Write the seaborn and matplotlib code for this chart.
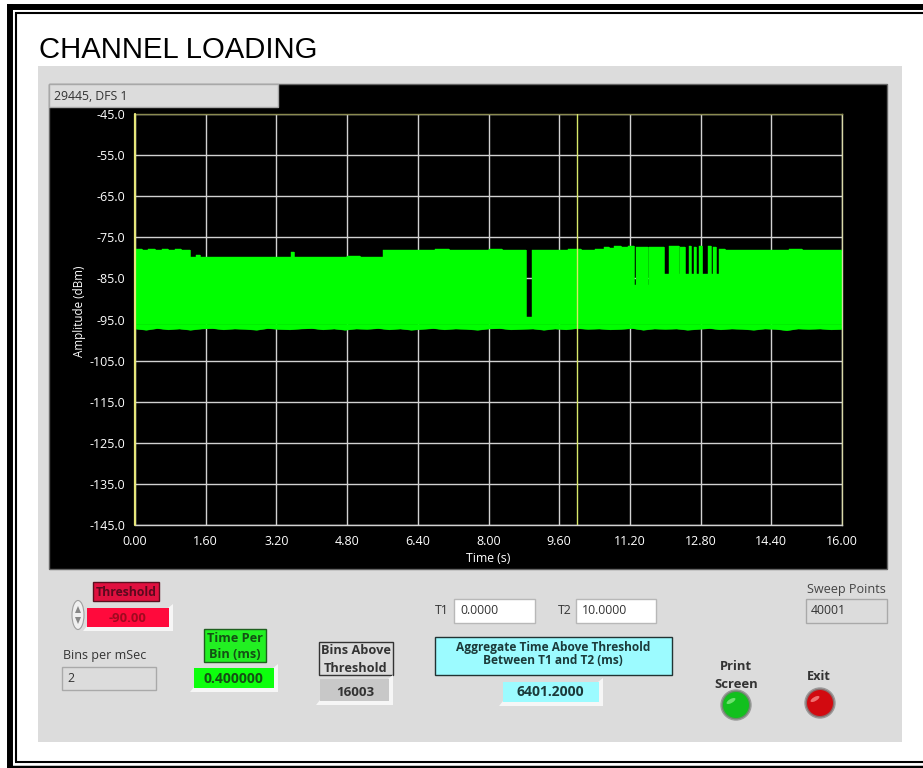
import seaborn as sns
import matplotlib.pyplot as plt
from matplotlib.patches import Rectangle, Circle, Ellipse, Polygon

W, H = 923, 768

# x axis / y axis
x_ticks = [0.0, 1.6, 3.2, 4.8, 6.4, 8.0, 9.6, 11.2, 12.8, 14.4, 16.0]
y_ticks = [-45, -55, -65, -75, -85, -95, -105, -115, -125, -135, -145]

# upper envelope of the trace (step data)
t_top = [0.00, 0.15, 0.30, 0.45, 0.60, 0.75, 0.90, 1.05, 1.24, 1.38, 1.48, 1.60, 1.90, 2.20, 2.50,
         2.80, 3.10, 3.40, 3.52, 3.60, 3.90, 4.20, 4.50, 4.80, 5.10, 5.40, 5.62, 5.90, 6.20, 6.50,
         6.80, 7.10, 7.40, 7.70, 8.00, 8.30, 8.60, 8.85, 8.98, 9.20, 9.50, 9.80, 10.10, 10.40, 10.62,
         10.72, 10.85, 11.00, 11.15, 11.30, 11.33, 11.60, 11.63, 11.97, 12.08, 12.30, 12.33, 12.45, 12.54, 12.58,
         12.64, 12.69, 12.76, 12.84, 12.96, 13.04, 13.08, 13.14, 13.22, 13.35, 13.60, 13.90, 14.20, 14.50, 14.80,
         15.10, 15.40, 15.70, 16.00]
amp_top = [-77.9, -78.0, -77.8, -78.0, -77.9, -78.0, -77.8, -78.0, -79.7, -79.3, -79.8, -79.9, -79.8, -79.9, -79.8,
           -79.9, -79.8, -79.8, -78.6, -79.8, -79.8, -79.9, -79.8, -79.6, -79.9, -79.8, -78.0, -78.1, -78.0, -78.1,
           -77.9, -78.1, -78.0, -78.1, -77.9, -78.0, -78.1, -94.5, -78.1, -78.0, -78.1, -77.9, -78.0, -77.9, -77.3,
           -77.6, -77.2, -77.3, -77.2, -86.6, -77.4, -86.6, -77.3, -84.0, -77.1, -84.0, -77.3, -84.0, -77.2, -84.0,
           -77.3, -84.0, -77.2, -84.0, -77.2, -84.0, -77.3, -84.0, -77.9, -78.1, -78.0, -78.1, -78.0, -78.1, -77.9,
           -78.1, -78.0, -78.1, -78.0]

# lower envelope
t_low = [0.00, 0.25, 0.50, 0.75, 1.00, 1.25, 1.50, 1.75, 2.00, 2.25, 2.50, 2.75, 3.00, 3.25, 3.50, 3.75,
         4.00, 4.25, 4.50, 4.75, 5.00, 5.25, 5.50, 5.75, 6.00, 6.25, 6.50, 6.75, 7.00, 7.25, 7.50, 7.75,
         8.00, 8.25, 8.50, 8.75, 9.00, 9.25, 9.50, 9.75, 10.00, 10.25, 10.50, 10.75, 11.00, 11.25, 11.50, 11.75,
         12.00, 12.25, 12.50, 12.75, 13.00, 13.25, 13.50, 13.75, 14.00, 14.25, 14.50, 14.75, 15.00, 15.25, 15.50, 15.75, 16.00]
amp_low = [-97.2, -97.5, -97.1, -97.4, -97.2, -97.5, -97.2, -97.1, -97.4, -97.2, -97.3, -97.5, -97.1, -97.3, -97.4, -97.2,
           -97.1, -97.4, -97.2, -97.5, -97.2, -97.3, -97.1, -97.4, -97.2, -97.5, -97.3, -97.1, -97.4, -97.2, -97.3, -97.5,
           -97.2, -97.1, -97.4, -97.3, -97.2, -97.5, -97.2, -97.4, -97.1, -97.3, -97.2, -97.4, -97.3, -97.1, -97.5, -97.2,
           -97.3, -97.2, -97.5, -97.3, -97.1, -97.4, -97.2, -97.3, -97.5, -97.2, -97.3, -97.6, -97.2, -97.3, -97.2, -97.4, -97.3]

t1_cursor = 0.0
t2_cursor = 10.0
band_base = -96.0

sns.set_theme(style='white')
plt.rcParams['font.family'] = ['Open Sans', 'DejaVu Sans']

fig = plt.figure(figsize=(W / 100, H / 100), dpi=100, facecolor='white')

# page, panel and all the front panel boxes go in a pixel sized axes
bg = fig.add_axes([0, 0, 1, 1])
bg.set_xlim(0, W)
bg.set_ylim(H, 0)
bg.axis('off')


def box(x0, y0, x1, y1, fc, ec='none', lw=1.0, z=2):
    bg.add_patch(Rectangle((x0, y0), x1 - x0, y1 - y0, fc=fc, ec=ec, lw=lw, zorder=z))


def raised(x0, y0, x1, y1, fc):
    # white lip on the lower right like the labview indicators
    bg.add_patch(Polygon([(x1 - 1, y0), (x1 + 4, y0 - 4), (x1 + 4, y1 + 4), (x0 - 4, y1 + 4), (x0, y1 - 1)],
                         fc='#f6f6f6', ec='none', zorder=2))
    box(x0, y0, x1, y1, fc, z=3)


def label(x, y, s, size=8.8, color='#333333', weight='normal', ha='left'):
    bg.text(x, y, s, fontsize=size, color=color, fontweight=weight, ha=ha, va='center', zorder=5)


# double border, open on the right side
bg.plot([10, 10], [H, 4], color='black', lw=4.3, solid_capstyle='butt')
bg.plot([7, W], [7, 7], color='black', lw=4.3, solid_capstyle='butt')
bg.plot([16, 16], [762, 12], color='black', lw=1.5, solid_capstyle='butt')
bg.plot([15, W], [13, 13], color='black', lw=1.5, solid_capstyle='butt')
bg.plot([15, W], [762, 762], color='black', lw=1.5, solid_capstyle='butt')
bg.plot([7, W], [766.5, 766.5], color='black', lw=2.5, solid_capstyle='butt')

bg.text(39, 50, 'CHANNEL LOADING', fontsize=21.1, color='black', family='Liberation Sans', ha='left', va='center')

box(38, 66, 902, 742, '#dcdcdc', z=1)
box(49, 84, 887, 569, 'black', ec='#666666', z=1.5)
box(49, 84, 278, 107, '#dcdcdc', ec='#a8a8a8', z=2)
label(54, 96, '29445, DFS 1')

# threshold
box(93, 582, 159, 601, '#e0103f', ec='#5a1020')
label(126, 592, 'Threshold', weight='bold', color='#5a0a1e', ha='center')
raised(87, 608, 169, 627, '#ff0a3c')
label(128, 618, '-90.00', weight='bold', color='#a00a20', ha='center', size=9.4)
bg.add_patch(Ellipse((78, 615), 12, 29, fc='#f0f0f0', ec='#a0a0a0', lw=0.8, zorder=3))
bg.add_patch(Polygon([(75, 613), (81, 613), (78, 606)], fc='#888888', ec='none', zorder=4))
bg.add_patch(Polygon([(75, 617), (81, 617), (78, 624)], fc='#888888', ec='none', zorder=4))

label(63, 656, 'Bins per mSec', size=9)
box(62, 667, 156, 690, '#dcdcdc', ec='#a9a9a9')
label(67, 679, '2')

# time per bin
box(204, 629, 266, 662, '#22f022', ec='#1f5f1f')
label(235, 638, 'Time Per', weight='bold', color='#145014', ha='center', size=9.2)
label(235, 654, 'Bin (ms)', weight='bold', color='#145014', ha='center', size=9.2)
raised(194, 668, 274, 688, '#0dff0d')
label(233, 679, '0.400000', weight='bold', color='#145014', ha='center', size=10)

# bins above
box(319, 642, 393, 675, '#dcdcdc', ec='#333333')
label(356, 651, 'Bins Above', weight='bold', ha='center', size=9.2)
label(356, 668, 'Threshold', weight='bold', ha='center', size=9.2)
raised(320, 679, 389, 701, '#c8c8c8')
label(355, 692, '16003', weight='bold', ha='center', size=9.6)

# cursors
label(435, 611, 'T1')
box(454, 599, 535, 623, 'white', ec='#b8b8b8')
label(460, 611, '0.0000')
label(558, 611, 'T2')
box(576, 599, 656, 623, 'white', ec='#b8b8b8')
label(582, 611, '10.0000')

label(807, 589, 'Sweep Points', size=9.1, color='#444444')
box(806, 599, 887, 623, '#dcdcdc', ec='#a9a9a9')
label(811, 611, '40001')

# aggregate
box(435, 637, 672, 675, '#9cfbff', ec='#223333')
label(553, 647, 'Aggregate Time Above Threshold', weight='bold', color='#1c3a3a', ha='center', size=8.6)
label(553, 661, 'Between T1 and T2 (ms)', weight='bold', color='#1c3a3a', ha='center', size=8.6)
raised(503, 682, 599, 702, '#9cfbff')
label(550, 692, '6401.2000', weight='bold', color='#1c3a3a', ha='center', size=10)

# buttons
label(736, 667, 'Print', weight='bold', ha='center', size=9.4)
label(736, 684, 'Screen', weight='bold', ha='center', size=9.4)
label(819, 677, 'Exit', weight='bold', ha='center', size=9.2)
for cx, cy, rim, fc, hi in [(736, 705, '#6a8a6a', '#12c01e', '#70e070'), (820, 703, '#8a6a6a', '#d20a10', '#f07070')]:
    bg.add_patch(Circle((cx, cy), 15, fc=rim, ec='#9a9a9a', lw=1, zorder=3))
    bg.add_patch(Circle((cx, cy), 13, fc=fc, ec='none', zorder=4))
    bg.add_patch(Ellipse((cx - 5, cy - 4), 10, 4, angle=-30, fc=hi, ec='none', zorder=5))

# the graph itself
ax_l, ax_r, ax_t, ax_b = 135, 842, 114, 525
ax = fig.add_axes([ax_l / W, 1 - ax_b / H, (ax_r - ax_l) / W, (ax_b - ax_t) / H])
ax.set_facecolor('black')
ax.set_xlim(0, 16)
ax.set_ylim(-145, -45)
ax.set_xticks(x_ticks)
ax.set_xticklabels(['%.2f' % v for v in x_ticks])
ax.set_yticks(y_ticks)
ax.set_yticklabels(['%.1f' % v for v in y_ticks])
ax.grid(True, color='#d2d2d2', lw=1.0, zorder=1)
ax.set_axisbelow(True)
ax.tick_params(colors='white', labelsize=9, length=0, pad=7)

ax.fill_between(t_top, amp_top, band_base, step='post', color='#00ff00', lw=0.3, zorder=2)
ax.fill_between(t_low, amp_low, band_base, color='#00ff00', lw=0.3, zorder=2)
sns.lineplot(x=t_top, y=amp_top, drawstyle='steps-post', sort=False, estimator=None, color='#00ff00', lw=0.5, ax=ax, zorder=3)
sns.lineplot(x=t_low, y=amp_low, sort=False, estimator=None, color='#00ff00', lw=0.5, ax=ax, zorder=3)

ax.axvline(t2_cursor, color='#d8e86a', lw=1.0, zorder=4)
ax.axvline(t1_cursor, color='#e6e67a', lw=1.6, zorder=4, clip_on=False)

ax.set_xlabel('Time (s)', color='white', fontsize=8.8)
ax.set_ylabel('Amplitude (dBm)', color='white', fontsize=8.4)
ax.xaxis.set_label_coords(0.5, -0.066)
ax.yaxis.set_label_coords(-0.070, 0.519)
for side, c in [('top', '#8a8a50'), ('bottom', '#d2d2d2'), ('right', '#d8d8a8')]:
    ax.spines[side].set_color(c)
    ax.spines[side].set_linewidth(1.0)
ax.spines['left'].set_visible(False)

fig.savefig('out.png', dpi=100)
